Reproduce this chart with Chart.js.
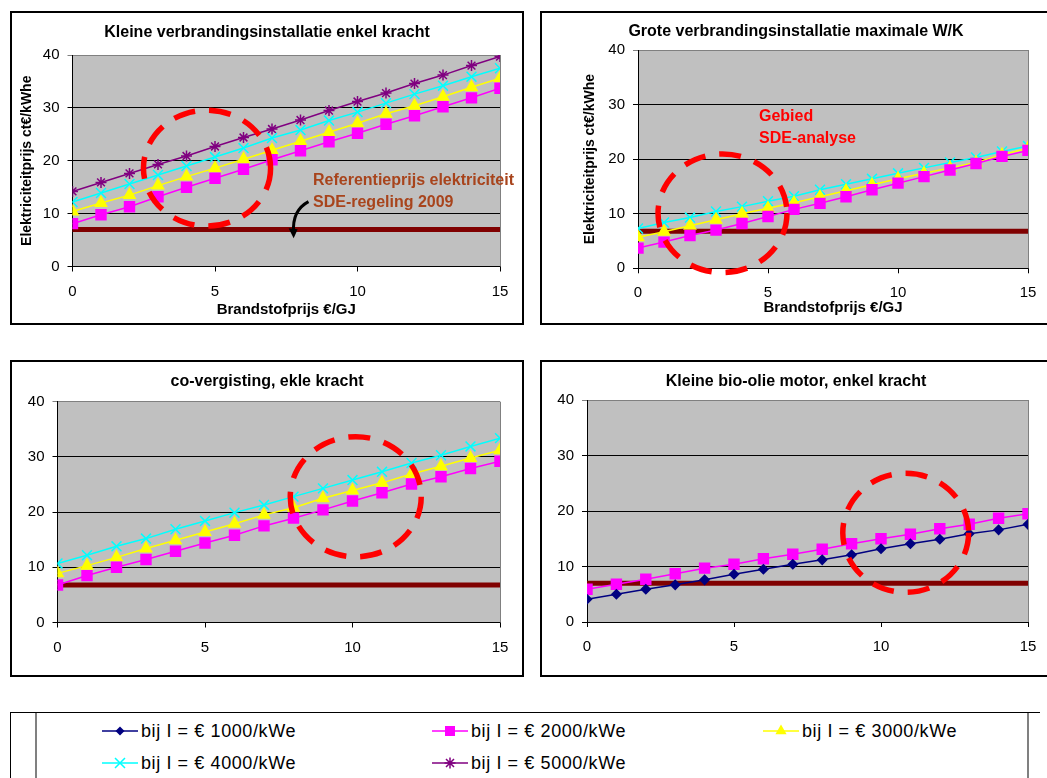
<!DOCTYPE html>
<html>
<head>
<meta charset="utf-8">
<script src="https://cdn.jsdelivr.net/npm/chart.js@4.4.1/dist/chart.umd.min.js"></script>
<style>
  html, body { margin: 0; padding: 0; background: #fff; }
  body { width: 1047px; height: 778px; overflow: hidden; position: relative; font-family: "Liberation Sans", Arial, sans-serif; }
  .panel { position: absolute; border: 2px solid #000; box-sizing: border-box; background: #fff; }
  .panel canvas { position: absolute; left: 0; top: 0; }
  .note { position: absolute; font-weight: bold; font-size: 16px; line-height: 22px; white-space: nowrap; z-index: 2; }
  .legend-line { position: absolute; background: #000; }
  .item { position: absolute; height: 22px; white-space: nowrap; }
  .item svg { position: absolute; left: 0; top: 4px; }
  .item span { position: absolute; top: 0; font-size: 18px; line-height: 22px; letter-spacing: 0.6px; color: #000; }
</style>
</head>
<body>

<div class="panel" style="left:10px; top:11px; width:514px; height:314px;"><canvas id="c1" width="510" height="310"></canvas></div>
<div class="panel" style="left:540px; top:11px; width:512px; height:314px;"><canvas id="c2" width="508" height="310"></canvas></div>
<div class="panel" style="left:10px; top:360px; width:514px; height:317px;"><canvas id="c3" width="510" height="313"></canvas></div>
<div class="panel" style="left:540px; top:360px; width:512px; height:317px;"><canvas id="c4" width="508" height="313"></canvas></div>

<div class="note" style="left:313px; top:169px; color:#A8441C;">Referentieprijs elektriciteit<br>SDE-regeling 2009</div>
<div class="note" style="left:759px; top:105px; color:#FF0000;">Gebied<br>SDE-analyse</div>

<!-- legend box -->
<div class="legend-line" style="left:10px; top:712px; width:1030px; height:1px;"></div>
<div class="legend-line" style="left:10px; top:712px; width:1px; height:66px;"></div>
<div class="legend-line" style="left:35px; top:713px; width:2px; height:65px; background:#808080;"></div>
<div class="legend-line" style="left:1027px; top:713px; width:2px; height:65px; background:#808080;"></div>
<div id="legend"></div>

<script>
// --- Data ---
const fuelPrice = [0, 1, 2, 3, 4, 5, 6, 7, 8, 9, 10, 11, 12, 13, 14, 15];
const xTicks = [0, 5, 10, 15];
const yTicks = [0, 10, 20, 30, 40];
const investLabels = ['bij I = € 1000/kWe', 'bij I = € 2000/kWe', 'bij I = € 3000/kWe', 'bij I = € 4000/kWe', 'bij I = € 5000/kWe'];

// Kleine verbrandingsinstallatie enkel kracht
const small2000 = [8.1, 9.8, 11.3, 13.2, 15.0, 16.7, 18.4, 20.2, 21.9, 23.6, 25.2, 26.9, 28.5, 30.2, 31.9, 33.7];
const small3000 = [10.4, 12.0, 13.5, 15.3, 17.0, 18.6, 20.3, 22.0, 23.7, 25.4, 27.1, 28.9, 30.4, 32.1, 33.9, 35.6];
const small4000 = [12.2, 13.9, 15.6, 17.3, 19.0, 20.7, 22.4, 24.3, 25.8, 27.6, 29.2, 30.9, 32.6, 34.2, 35.9, 37.5];
const small5000 = [14.2, 15.9, 17.6, 19.3, 20.9, 22.7, 24.4, 26.0, 27.7, 29.5, 31.2, 32.8, 34.6, 36.2, 38.0, 39.7];

// Grote verbrandingsinstallatie maximale W/K
const large2000 = [3.7, 4.8, 6.0, 7.0, 8.2, 9.5, 10.8, 11.9, 13.1, 14.4, 15.6, 16.8, 18.0, 19.2, 20.5, 21.6];
const large3000 = [5.7, 6.7, 7.8, 8.9, 10.0, 11.0, 12.0, 13.1, 14.2, 15.3, 16.4, 17.4, 18.4, 19.4, 20.8, 22.0];
const large4000 = [7.3, 8.4, 9.3, 10.4, 11.3, 12.3, 13.2, 14.4, 15.4, 16.4, 17.4, 18.4, 19.4, 20.3, 21.4, 22.4];

// co-vergisting, ekle kracht
const codig2000 = [6.8, 8.5, 10.0, 11.4, 12.9, 14.4, 15.8, 17.5, 18.9, 20.4, 22.0, 23.5, 25.1, 26.4, 27.9, 29.2];
const codig3000 = [8.9, 10.3, 11.8, 13.4, 14.9, 16.4, 17.9, 19.5, 20.8, 22.5, 23.9, 25.3, 26.9, 28.3, 29.8, 31.2];
const codig4000 = [10.7, 12.2, 13.8, 15.2, 16.9, 18.4, 19.9, 21.3, 22.8, 24.3, 25.8, 27.3, 28.9, 30.3, 31.9, 33.4];

// Kleine bio-olie motor, enkel kracht
const bio1000 = [4.1, 5.0, 5.9, 6.7, 7.6, 8.6, 9.5, 10.4, 11.2, 12.1, 13.2, 14.1, 14.9, 15.9, 16.6, 17.6];
const bio2000 = [5.9, 6.8, 7.7, 8.7, 9.7, 10.4, 11.4, 12.2, 13.1, 14.1, 15.0, 15.8, 16.8, 17.6, 18.7, 19.5];

// Referentieprijs elektriciteit SDE-regeling 2009 (per panel)
const refPrice = [7.0, 6.8, 6.8, 7.0];

// --- Styles ---
const FONT = '"Liberation Sans", Arial, sans-serif';
const seriesStyle = [
    { color: '#000080', point: 'rectRot', radius: 4.5 },
    { color: '#FF00FF', point: 'rect', radius: 7 },
    { color: '#FFFF00', point: 'triangle', radius: 6.5 },
    { color: '#00FFFF', point: 'crossRot', radius: 7 },
    { color: '#800080', point: 'star', radius: 5.5 }
];

function series(idx, values) {
    const s = seriesStyle[idx];
    return {
        label: investLabels[idx],
        data: values.map((v, i) => ({ x: fuelPrice[i], y: v })),
        borderColor: s.color,
        backgroundColor: s.color,
        borderWidth: 1.5,
        pointStyle: s.point,
        pointRadius: s.radius,
        pointBackgroundColor: s.color,
        pointBorderColor: s.color,
        pointBorderWidth: 1.5,
        tension: 0
    };
}

function refLine(value) {
    return {
        label: 'Referentieprijs',
        data: [{ x: fuelPrice[0], y: value }, { x: fuelPrice[fuelPrice.length - 1], y: value }],
        borderColor: '#800000',
        borderWidth: 5,
        borderCapStyle: 'round',
        pointRadius: 0
    };
}

// gray plot area, plot border, dashed ellipse and arrow
const decor = {
    id: 'decor',
    beforeDraw(chart) {
        const a = chart.chartArea;
        const ctx = chart.ctx;
        ctx.save();
        ctx.fillStyle = '#C0C0C0';
        ctx.fillRect(a.left, a.top, a.right - a.left, a.bottom - a.top);
        ctx.restore();
    },
    afterDatasetsDraw(chart, args, opts) {
        const a = chart.chartArea;
        const ctx = chart.ctx;
        const xs = chart.scales.x, ys = chart.scales.y;
        ctx.save();
        ctx.strokeStyle = '#808080';
        ctx.lineWidth = 1;
        ctx.beginPath();
        ctx.moveTo(Math.round(a.right) + 0.5, a.top);
        ctx.lineTo(Math.round(a.right) + 0.5, a.bottom);
        ctx.stroke();

        if (opts.ellipse) {
            const e = opts.ellipse;
            const cx = xs.getPixelForValue(e.x), cy = ys.getPixelForValue(e.y);
            const rx = Math.abs(xs.getPixelForValue(e.x + e.rx) - cx);
            const ry = Math.abs(ys.getPixelForValue(e.y + e.ry) - cy);
            ctx.strokeStyle = '#FF0000';
            ctx.lineWidth = 5.5;
            ctx.setLineDash([22, 14]);
            ctx.beginPath();
            ctx.ellipse(cx, cy, rx, ry, 0, 0, Math.PI * 2);
            ctx.stroke();
            ctx.setLineDash([]);
        }
        if (opts.arrow) {
            const p = opts.arrow.map(pt => [xs.getPixelForValue(pt[0]), ys.getPixelForValue(pt[1])]);
            ctx.strokeStyle = '#000';
            ctx.fillStyle = '#000';
            ctx.lineWidth = 3;
            ctx.beginPath();
            ctx.moveTo(p[0][0], p[0][1]);
            ctx.quadraticCurveTo(p[1][0], p[1][1], p[2][0], p[2][1] - 6);
            ctx.stroke();
            const tip = p[2];
            ctx.beginPath();
            ctx.moveTo(tip[0], tip[1]);
            ctx.lineTo(tip[0] - 5, tip[1] - 10);
            ctx.lineTo(tip[0] + 4, tip[1] - 9);
            ctx.closePath();
            ctx.fill();
        }
        ctx.restore();
    }
};

function makeChart(id, cfg) {
    const boldFont = (size) => ({ family: FONT, size: size, weight: 'bold', lineHeight: 1 });
    return new Chart(document.getElementById(id), {
        type: 'line',
        data: { datasets: cfg.datasets },
        options: {
            responsive: false,
            animation: false,
            devicePixelRatio: 1,
            layout: { padding: 0 },
            plugins: {
                legend: { display: false },
                tooltip: { enabled: false },
                title: {
                    display: true,
                    text: cfg.title,
                    color: '#000',
                    font: boldFont(16),
                    padding: cfg.titlePad
                },
                decor: { ellipse: cfg.ellipse, arrow: cfg.arrow }
            },
            scales: {
                x: {
                    type: 'linear',
                    min: xTicks[0],
                    max: xTicks[xTicks.length - 1],
                    afterBuildTicks: s => { s.ticks = xTicks.map(v => ({ value: v })); },
                    afterFit: s => { s.height = cfg.xHeight; },
                    grid: { drawOnChartArea: false, drawTicks: true, tickLength: 5, color: '#000' },
                    border: { display: true, color: '#000', width: 1 },
                    ticks: { color: '#000', font: { family: FONT, size: 15 }, padding: 11, maxRotation: 0 },
                    title: cfg.xTitle
                        ? { display: true, text: cfg.xTitle, color: '#000', font: boldFont(15), padding: { top: 0, bottom: cfg.xTitlePad } }
                        : { display: false }
                },
                y: {
                    min: yTicks[0],
                    max: yTicks[yTicks.length - 1],
                    afterBuildTicks: s => { s.ticks = yTicks.map(v => ({ value: v })); },
                    afterFit: s => { s.width = cfg.yWidth; },
                    grid: {
                        color: c => (c.tick && c.tick.value === 40 ? '#808080' : '#000'),
                        tickLength: 5
                    },
                    border: { display: true, color: '#000', width: 1 },
                    ticks: { color: '#000', font: { family: FONT, size: 15 }, padding: 8 },
                    title: cfg.yTitle
                        ? { display: true, text: cfg.yTitle, color: '#000', font: boldFont(14), padding: { top: cfg.yTitlePad, bottom: 0 } }
                        : { display: false }
                },
                yR: {
                    position: 'right',
                    display: true,
                    afterFit: s => { s.width = 22; },
                    grid: { display: false },
                    ticks: { display: false },
                    border: { display: false }
                }
            }
        },
        plugins: [decor]
    });
}

makeChart('c1', {
    title: 'Kleine verbrandingsinstallatie enkel kracht',
    titlePad: { top: 11.5, bottom: 14.5 },
    datasets: [series(1, small2000), series(2, small3000), series(3, small4000), series(4, small5000), refLine(refPrice[0])],
    xHeight: 56.5, yWidth: 60.5,
    xTitle: 'Brandstofprijs €/GJ', xTitlePad: 5.5,
    yTitle: 'Elektriciteitprijs ct€/kWhe', yTitlePad: 8,
    ellipse: { x: 4.72, y: 18.6, rx: 2.23, ry: 10.96 },
    arrow: [[8.28, 12.28], [7.7, 10.6], [7.76, 5.35]]
});

makeChart('c2', {
    title: 'Grote verbrandingsinstallatie maximale W/K',
    titlePad: { top: 10.7, bottom: 10.3 },
    datasets: [series(1, large2000), series(2, large3000), series(3, large4000), refLine(refPrice[1])],
    xHeight: 54.7, yWidth: 96,
    xTitle: 'Brandstofprijs €/GJ', xTitlePad: 7.2,
    yTitle: 'Elektriciteitprijs ct€/kWhe', yTitlePad: 41,
    ellipse: { x: 3.25, y: 10.08, rx: 2.48, ry: 10.87 }
});

makeChart('c3', {
    title: 'co-vergisting, ekle kracht',
    titlePad: { top: 12, bottom: 11.7 },
    datasets: [series(1, codig2000), series(2, codig3000), series(3, codig4000), refLine(refPrice[2])],
    xHeight: 52.5, yWidth: 45.5,
    ellipse: { x: 10.11, y: 22.78, rx: 2.22, ry: 10.88 }
});

makeChart('c4', {
    title: 'Kleine bio-olie motor, enkel kracht',
    titlePad: { top: 12, bottom: 10 },
    datasets: [series(0, bio1000), series(1, bio2000), refLine(refPrice[3])],
    xHeight: 53, yWidth: 45,
    ellipse: { x: 10.84, y: 16.07, rx: 2.14, ry: 10.73 }
});

// --- HTML legend ---
const legendPos = [[102, 720], [432, 720], [763, 720], [102, 752], [432, 752]];

function markerSvg(s) {
    const c = s.color;
    let m = '';
    if (s.point === 'rectRot') m = `<polygon points="18,2.5 22.5,7 18,11.5 13.5,7" fill="${c}"/>`;
    else if (s.point === 'rect') m = `<rect x="13" y="2" width="10" height="10" fill="${c}"/>`;
    else if (s.point === 'triangle') m = `<polygon points="18,0.5 23.6,10.2 12.4,10.2" fill="${c}"/>`;
    else if (s.point === 'crossRot') m = `<path d="M13,2 L23,12 M23,2 L13,12" stroke="${c}" stroke-width="1.5"/>`;
    else if (s.point === 'star') m = `<path d="M18,1.5 L18,12.5 M12.5,7 L23.5,7 M14,3 L22,11 M22,3 L14,11" stroke="${c}" stroke-width="1.5"/>`;
    return `<svg width="36" height="14"><line x1="0" y1="7" x2="36" y2="7" stroke="${c}" stroke-width="1.5"/>${m}</svg>`;
}

const legendEl = document.getElementById('legend');
investLabels.forEach((label, i) => {
    const div = document.createElement('div');
    div.className = 'item';
    div.style.left = legendPos[i][0] + 'px';
    div.style.top = legendPos[i][1] + 'px';
    div.innerHTML = markerSvg(seriesStyle[i]) + `<span style="left:39px">${label}</span>`;
    legendEl.appendChild(div);
});
</script>
</body>
</html>
